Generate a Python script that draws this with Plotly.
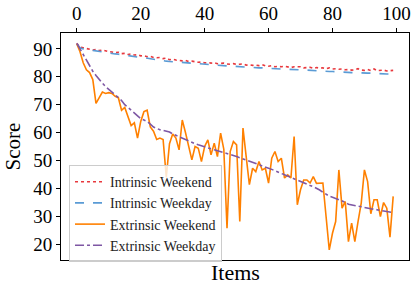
import plotly.graph_objects as go

items = list(range(100))

intrinsic_weekend = [
    92.0, 90.6, 90.4, 90.2, 90.0, 89.6, 89.8, 89.4, 89.6, 89.2,
    89.0, 88.9, 88.6, 88.8, 88.3, 88.4, 88.0, 88.2, 87.8, 87.9,
    87.5, 87.6, 87.2, 87.3, 86.9, 86.8, 86.9, 86.5, 86.7, 86.1,
    86.3, 86.0, 85.9, 85.7, 85.9, 85.5, 85.6, 85.4, 85.2, 85.3,
    85.0, 85.1, 84.9, 85.0, 84.7, 84.8, 84.9, 84.6, 84.5, 84.7,
    84.4, 84.5, 84.6, 84.2, 84.3, 84.1, 84.2, 84.0, 84.3, 83.9,
    83.8, 84.0, 83.6, 83.7, 83.6, 83.8, 83.5, 83.3, 83.6, 83.5,
    83.6, 83.2, 83.3, 83.4, 83.0, 83.3, 83.1, 83.2, 82.9, 83.2,
    82.8, 82.9, 82.7, 82.8, 82.5, 82.6, 82.4, 82.5, 82.9, 82.4,
    82.3, 82.6, 82.2, 82.8, 82.2, 82.2, 82.4, 82.1, 82.3, 82.3,
]

intrinsic_weekday = [
    91.8, 90.4, 90.0, 89.8, 89.6, 89.4, 89.2, 89.1, 88.9, 88.7,
    88.6, 88.4, 88.2, 88.1, 87.9, 87.8, 87.6, 87.4, 87.3, 87.1,
    87.0, 86.8, 86.6, 86.4, 86.2, 86.1, 86.0, 85.8, 85.6, 85.5,
    85.4, 85.3, 85.2, 85.1, 85.0, 84.9, 84.9, 84.8, 84.7, 84.6,
    84.6, 84.5, 84.4, 84.3, 84.2, 84.1, 84.0, 83.9, 83.8, 83.8,
    83.7, 83.6, 83.5, 83.4, 83.4, 83.3, 83.3, 83.2, 83.2, 83.1,
    83.0, 83.0, 82.9, 82.9, 82.8, 82.7, 82.7, 82.6, 82.6, 82.5,
    82.5, 82.4, 82.4, 82.3, 82.2, 82.2, 82.1, 82.1, 82.0, 81.9,
    81.9, 81.8, 81.8, 81.7, 81.6, 81.6, 81.5, 81.5, 81.4, 81.4,
    81.3, 81.3, 81.3, 81.2, 81.2, 81.1, 81.1, 81.0, 81.0, 81.0,
]

extrinsic_weekend = [
    91.8, 89.0, 85.0, 82.5, 81.5, 79.0, 70.5, 72.5, 74.5, 74.0,
    74.3, 74.0, 73.0, 72.5, 68.0, 69.0, 66.0, 62.5, 63.5, 58.0,
    64.0, 67.5, 68.0, 62.0, 60.5, 57.5, 58.0, 57.5, 44.0, 56.0,
    59.5, 58.0, 53.8, 64.5, 60.0, 55.6, 50.2, 55.0, 54.4, 49.6,
    55.0, 57.4, 52.0, 56.2, 51.4, 59.8, 54.0, 25.7, 53.2, 56.8,
    55.6, 28.1, 61.6, 51.4, 41.3, 47.2, 46.0, 49.6, 46.6, 47.2,
    41.9, 50.8, 53.2, 49.6, 50.8, 43.7, 44.8, 43.7, 58.6, 34.1,
    39.5, 43.0, 43.0, 41.9, 44.2, 41.8, 41.9, 41.9, 29.9, 17.9,
    23.9, 28.1, 46.6, 32.9, 35.3, 20.9, 27.5, 20.9, 28.1, 34.7,
    46.6, 42.4, 30.9, 35.9, 35.9, 29.9, 34.9, 32.9, 22.5, 37.1,
]

extrinsic_weekday = [
    92.0, 90.0, 87.5, 85.5, 83.7, 82.0, 80.5, 79.0, 77.7, 76.5,
    75.5, 74.5, 73.5, 72.5, 71.5, 70.0, 69.0, 68.0, 67.0, 66.0,
    65.0, 64.5, 64.0, 63.0, 62.0, 61.5, 61.0, 60.8, 60.5, 60.2,
    59.5, 59.0, 58.4, 57.8, 57.3, 56.8, 56.4, 56.0, 55.6, 55.2,
    54.8, 54.4, 54.1, 53.8, 53.5, 53.2, 52.9, 52.6, 52.2, 51.8,
    51.4, 51.0, 50.5, 50.0, 49.6, 49.2, 48.8, 48.4, 48.0, 47.6,
    47.2, 46.8, 46.3, 45.8, 45.3, 44.8, 44.3, 43.8, 43.3, 42.8,
    42.3, 41.8, 41.4, 41.0, 40.6, 40.1, 39.4, 38.6, 37.8, 37.2,
    36.8, 36.4, 36.0, 35.6, 35.0, 34.3, 34.0, 33.8, 33.6, 33.4,
    33.1, 32.9, 32.7, 32.5, 32.3, 32.0, 31.8, 31.6, 31.4, 31.3,
]

x_ticks = [0, 20, 40, 60, 80, 100]
y_ticks = [20, 30, 40, 50, 60, 70, 80, 90]

FONT = "Liberation Serif, Times New Roman, serif"

fig = go.Figure()
fig.add_trace(go.Scatter(x=items, y=intrinsic_weekend, mode="lines", name="Intrinsic Weekend",
                         line=dict(color="#e8383d", width=1.6, dash="dot")))
fig.add_trace(go.Scatter(x=items, y=intrinsic_weekday, mode="lines", name="Intrinsic Weekday",
                         line=dict(color="#5a9bd5", width=1.6, dash="dash")))
fig.add_trace(go.Scatter(x=items, y=extrinsic_weekend, mode="lines", name="Extrinsic Weekend",
                         line=dict(color="#ff8000", width=1.6)))
fig.add_trace(go.Scatter(x=items, y=extrinsic_weekday, mode="lines", name="Extrinsic Weekday",
                         line=dict(color="#7e57a4", width=1.6, dash="dashdot")))

fig.update_layout(
    width=411, height=287,
    margin=dict(l=61, r=2, t=33, b=27, autoexpand=False),
    paper_bgcolor="white", plot_bgcolor="white",
    font=dict(family=FONT, color="black"),
    showlegend=True,
    legend=dict(
        x=0.023, y=0.418, xanchor="left", yanchor="top",
        bgcolor="rgba(255,255,255,0.8)", bordercolor="#cccccc", borderwidth=1,
        font=dict(family=FONT, size=14, color="#222"),
        tracegroupgap=0, itemwidth=30,
    ),
    annotations=[
        dict(text="Items", x=0.5, y=-0.055, xref="paper", yref="paper",
             xanchor="center", yanchor="middle", showarrow=False,
             font=dict(family=FONT, size=22, color="black")),
    ],
)

fig.update_xaxes(
    side="top", range=[-4.95, 103.95], tickvals=x_ticks,
    ticks="outside", ticklen=4, tickcolor="black", tickwidth=1,
    showline=True, linecolor="black", linewidth=1, mirror=True,
    showgrid=False, zeroline=False, automargin=False,
    tickfont=dict(family=FONT, size=19, color="black"),
)
fig.update_yaxes(
    range=[14.3, 95.7], tickvals=y_ticks,
    ticks="outside", ticklen=4, tickcolor="black", tickwidth=1,
    showline=True, linecolor="black", linewidth=1, mirror=True,
    showgrid=False, zeroline=False, automargin=False,
    tickfont=dict(family=FONT, size=19, color="black"),
    title=dict(text="Score", font=dict(family=FONT, size=21, color="black"), standoff=6),
)

fig.write_html(
    "out.html",
    config={"displayModeBar": False},
    post_script="document.body.style.margin='0';document.body.style.padding='0';",
)
